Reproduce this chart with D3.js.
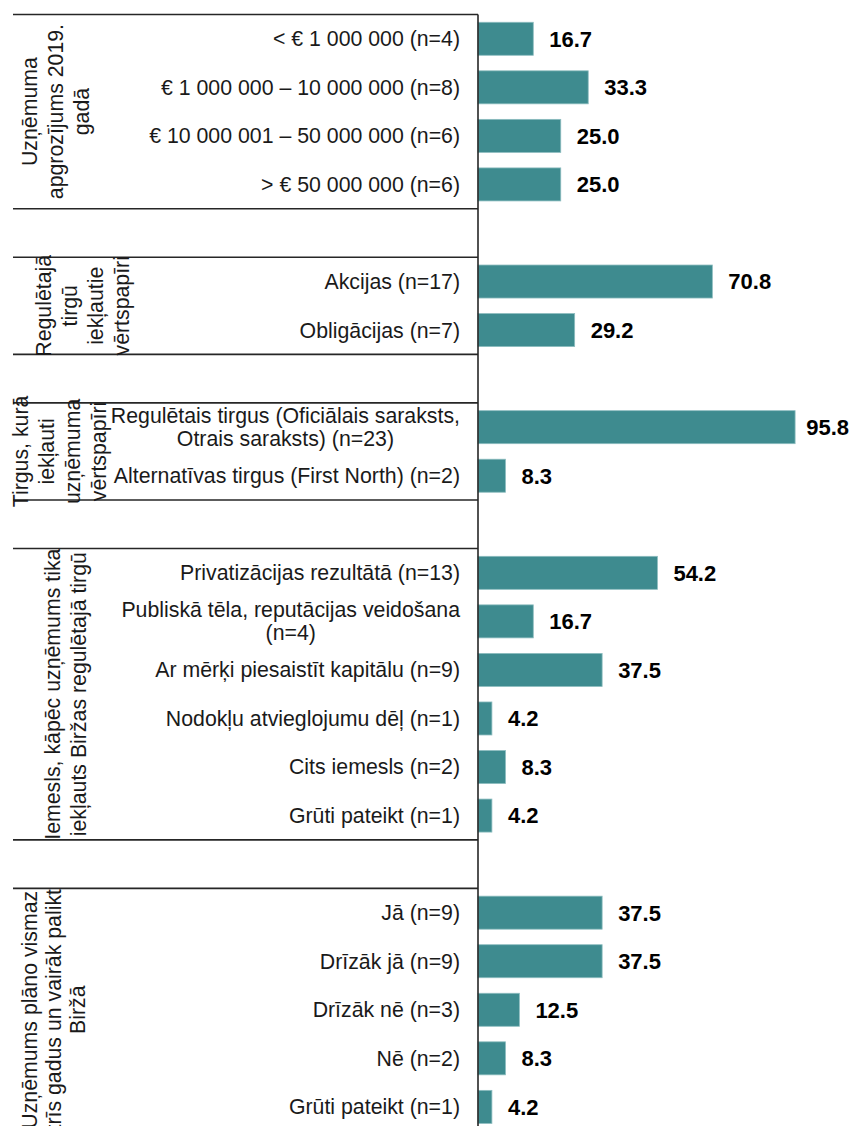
<!DOCTYPE html>
<html>
<head>
<meta charset="utf-8">
<script src="https://cdn.jsdelivr.net/npm/d3@7"></script>
<style>
  html, body { margin: 0; padding: 0; background: #fff; }
  svg { display: block; }
  text { font-family: Arial, "Liberation Sans", sans-serif; }
</style>
</head>
<body>
<div id="chart"></div>
<script>
// ---------- DATA ----------
const groupLabels = [
  ["Uzņēmuma", "apgrozījums 2019.", "gadā"],
  ["Regulētajā", "tirgū", "iekļautie", "vērtspapīri"],
  ["Tirgus, kurā", "iekļauti", "uzņēmuma", "vērtspapīri"],
  ["Iemesls, kāpēc uzņēmums tika", "iekļauts Biržas regulētajā tirgū"],
  ["Uzņēmums plāno vismaz", "trīs gadus un vairāk palikt", "Biržā"]
];
const turnoverCats = ["< € 1 000 000 (n=4)", "€ 1 000 000 – 10 000 000 (n=8)", "€ 10 000 001 – 50 000 000 (n=6)", "> € 50 000 000 (n=6)"];
const turnoverVals = [16.7, 33.3, 25.0, 25.0];
const securityCats = ["Akcijas (n=17)", "Obligācijas (n=7)"];
const securityVals = [70.8, 29.2];
const marketCats = ["Regulētais tirgus (Oficiālais saraksts,\nOtrais saraksts) (n=23)", "Alternatīvas tirgus (First North) (n=2)"];
const marketVals = [95.8, 8.3];
const reasonCats = ["Privatizācijas rezultātā (n=13)", "Publiskā tēla, reputācijas veidošana\n(n=4)", "Ar mērķi piesaistīt kapitālu (n=9)", "Nodokļu atvieglojumu dēļ (n=1)", "Cits iemesls (n=2)", "Grūti pateikt (n=1)"];
const reasonVals = [54.2, 16.7, 37.5, 4.2, 8.3, 4.2];
const planCats = ["Jā (n=9)", "Drīzāk jā (n=9)", "Drīzāk nē (n=3)", "Nē (n=2)", "Grūti pateikt (n=1)"];
const planVals = [37.5, 37.5, 12.5, 8.3, 4.2];

const groupCats = [turnoverCats, securityCats, marketCats, reasonCats, planCats];
const groupVals = [turnoverVals, securityVals, marketVals, reasonVals, planVals];

// ---------- LAYOUT ----------
const W = 852, H = 1126;
const axisX = 478, labelColLeft = 13, labelRight = 460;
const topY = 14.5, step = 48.55;
const groupLabelBaseMid = [63, 90, 67, 72.5, 61]; // mean baseline x of rotated group label lines
const groupLineH = [26, 26, 26, 26, 24];
const catFont = 21.3, catLineH = 23, valFont = 22;
const barColor = "#3e8b8f";

// rows: categories with an empty spacer row between groups
const rows = [];
groupCats.forEach((cats, gi) => {
  if (gi > 0) rows.push({ id: "sp" + gi, spacer: true });
  cats.forEach((c, ci) => rows.push({ id: "g" + gi + "c" + ci, label: c, value: groupVals[gi][ci], group: gi }));
});

const y = d3.scaleBand()
  .domain(rows.map(r => r.id))
  .range([topY, topY + step * rows.length])
  .paddingInner(0.32).paddingOuter(0.16);

const x = d3.scaleLinear().domain([0, 100]).range([axisX, axisX + 331]);

const svg = d3.select("#chart").append("svg").attr("width", W).attr("height", H);

// bars
const data = rows.filter(r => !r.spacer);
svg.append("g").selectAll("rect").data(data).join("rect")
  .attr("x", x(0))
  .attr("y", d => y(d.id))
  .attr("width", d => x(d.value) - x(0))
  .attr("height", y.bandwidth())
  .attr("fill", barColor)
  .attr("stroke", "#8cbcbf")
  .attr("stroke-width", 0.8);

// value labels (kept inside the picture)
svg.append("g").selectAll("text").data(data).join("text")
  .attr("y", d => y(d.id) + y.bandwidth() / 2 + valFont * 0.36)
  .attr("font-size", valFont)
  .attr("font-weight", "bold")
  .attr("fill", "#000")
  .text(d => d.value.toFixed(1))
  .attr("x", function(d) {
    const w = this.getComputedTextLength();
    return Math.min(x(d.value) + 16, W - 3 - w);
  });

// category labels
const catG = svg.append("g");
data.forEach(d => {
  const lines = d.label.split("\n");
  const cy = y(d.id) + y.bandwidth() / 2;
  const t = catG.append("text").attr("font-size", catFont).attr("fill", "#1a1a1a").attr("text-anchor", "middle");
  const spans = lines.map((ln, i) => t.append("tspan")
    .attr("y", cy + (i - (lines.length - 1) / 2) * catLineH + catFont * 0.35)
    .text(ln));
  const maxW = d3.max(spans, s => s.node().getComputedTextLength());
  spans.forEach(s => s.attr("x", labelRight - maxW / 2));
});

// group extents
const groupBounds = groupCats.map((cats, gi) => {
  const first = "g" + gi + "c0", last = "g" + gi + "c" + (cats.length - 1);
  const y0 = y(first) - y.step() * y.paddingInner() / 2;
  const y1 = y(last) + y.bandwidth() + y.step() * y.paddingInner() / 2;
  return [y0, y1];
});

// separator lines
const sepYs = [];
groupBounds.forEach(b => { sepYs.push(b[0]); sepYs.push(b[1]); });
svg.append("g").selectAll("line").data(sepYs).join("line")
  .attr("x1", labelColLeft).attr("x2", axisX)
  .attr("y1", d => d).attr("y2", d => d)
  .attr("stroke", "#262626").attr("stroke-width", 1.6);

// axis line
svg.append("line")
  .attr("x1", axisX).attr("x2", axisX)
  .attr("y1", topY).attr("y2", topY + step * rows.length)
  .attr("stroke", "#262626").attr("stroke-width", 1.6);

// group labels (rotated)
groupLabels.forEach((lines, gi) => {
  const cy = (groupBounds[gi][0] + groupBounds[gi][1]) / 2;
  const t = svg.append("text")
    .attr("transform", `translate(0,${cy}) rotate(-90)`)
    .attr("font-size", catFont).attr("fill", "#1a1a1a").attr("text-anchor", "middle");
  lines.forEach((ln, i) => t.append("tspan")
    .attr("x", 0)
    .attr("y", groupLabelBaseMid[gi] + (i - (lines.length - 1) / 2) * groupLineH[gi])
    .text(ln));
});
</script>
</body>
</html>
